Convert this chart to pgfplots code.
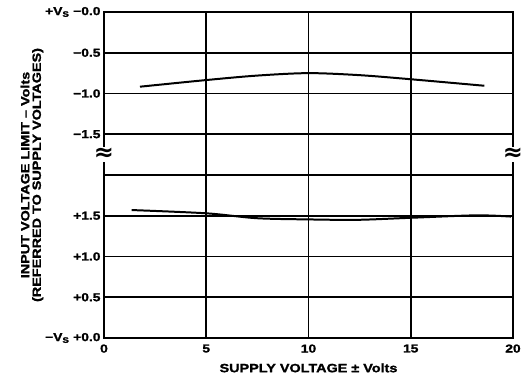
\documentclass[border=0pt]{standalone}
\usepackage{fontspec}
\usepackage{pgfplots}
\pgfplotsset{compat=1.18}
\setmainfont{Liberation Sans}
\newfontfamily\lab[FakeStretch=1.2,FakeBold=1.5]{Liberation Sans}
\newfontfamily\sym{DejaVu Sans}
\begin{document}
\begin{tikzpicture}
\path[use as bounding box] (-104bp,-43bp) rectangle (423bp,338bp);
\begin{axis}[
  at={(0,0)}, anchor=south west,
  scale only axis, width=409bp, height=326bp,
  xmin=0, xmax=20, ymin=0, ymax=8,
  xtick={0,5,10,15,20}, xticklabels={0,5,10,15,20},
  ytick={0,1,2,3,4,5,6,7,8},
  yticklabels={{\textminus V\textsubscript{S}\ +0.0},{+0.5},{+1.0},{+1.5},{},{\textminus1.5},{\textminus1.0},{\textminus0.5},{+V\textsubscript{S}\ \textminus0.0}},
  major tick length=0pt,
  grid=major,
  major grid style={black, line width=1.8pt},
  axis line style={black, line width=1.9pt},
  tick label style={font=\lab\bfseries\fontsize{11.5bp}{13bp}\selectfont},
  xticklabel style={yshift=-3bp},
  label style={font=\lab\bfseries\fontsize{12bp}{11.5bp}\selectfont},
  xlabel={SUPPLY VOLTAGE \textpm\ Volts},
  xlabel style={yshift=-4bp},
  ylabel={INPUT VOLTAGE LIMIT \textendash\ Volts\\(REFERRED TO SUPPLY VOLTAGES)},
  ylabel style={align=center, yshift=-5bp},
  clip=false,
]
\addplot[black, line width=2pt, smooth] coordinates {
  (1.76,6.167) (5,6.33) (7.5,6.44) (10,6.50) (12.5,6.45) (15,6.35) (18.6,6.19)
};
\addplot[black, line width=2pt, smooth] coordinates {
  (1.35,3.14) (5,3.06) (7.46,2.94) (10,2.91) (12.4,2.90) (15,2.95) (18.2,3.01) (19.9,2.98)
};
\node[fill=white, inner xsep=0pt, inner ysep=1pt, font=\sym\bfseries\fontsize{24bp}{24bp}\selectfont] at (axis cs:0,4.5) {≈};
\node[fill=white, inner xsep=0pt, inner ysep=1pt, font=\sym\bfseries\fontsize{24bp}{24bp}\selectfont] at (axis cs:20,4.5) {≈};
\end{axis}
\end{tikzpicture}
\end{document}
